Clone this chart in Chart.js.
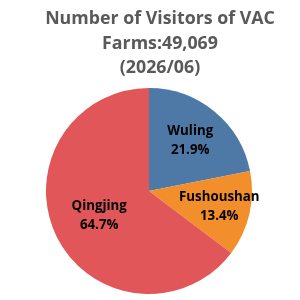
<!DOCTYPE html>
<html lang="en">
<head>
<meta charset="UTF-8">
<title>VAC Farms Visitors</title>
<script src="https://cdn.jsdelivr.net/npm/chart.js"></script>
<style>
    html, body { margin: 0; padding: 0; background: #ffffff; }
    #chartContainer { width: 300px; height: 300px; }
</style>
</head>
<body>
<div id="chartContainer">
    <canvas id="pieChart" width="300" height="300"></canvas>
</div>
<script>
const titleLines = ['Number of Visitors of VAC', 'Farms:49,069', '(2026/06)'];
const farms = ['Wuling', 'Fushoushan', 'Qingjing'];
const visitors = [10746, 6575, 31748];
const percentLabels = ['21.9%', '13.4%', '64.7%'];
const sliceColors = ['#4e79a7', '#f28e2b', '#e15759'];

// how far out along each slice the label sits (fraction of radius)
const labelRadius = [0.63, 0.70, 0.54];

// title is drawn a bit right of the pie centre, like the original
const chartTitle = {
    id: 'chartTitle',
    afterDraw(chart) {
        const ctx = chart.ctx;
        ctx.save();
        ctx.font = 'bold 17.8px "Open Sans"';
        ctx.fillStyle = '#595959';
        ctx.textAlign = 'center';
        ctx.textBaseline = 'middle';
        titleLines.forEach((line, i) => {
            ctx.fillText(line, 160, 19 + i * 24.5);
        });
        ctx.restore();
    }
};

const sliceLabels = {
    id: 'sliceLabels',
    afterDatasetsDraw(chart) {
        const ctx = chart.ctx;
        const meta = chart.getDatasetMeta(0);
        ctx.save();
        ctx.font = 'bold 13.3px "Open Sans"';
        ctx.fillStyle = '#000000';
        ctx.textAlign = 'center';
        ctx.textBaseline = 'middle';
        meta.data.forEach((arc, i) => {
            const p = arc.getProps(['x', 'y', 'startAngle', 'endAngle', 'outerRadius'], true);
            const mid = (p.startAngle + p.endAngle) / 2;
            const r = p.outerRadius * labelRadius[i];
            const x = p.x + Math.cos(mid) * r;
            const y = p.y + Math.sin(mid) * r;
            ctx.fillText(farms[i], x, y - 9.5);
            ctx.fillText(percentLabels[i], x, y + 9.5);
        });
        ctx.restore();
    }
};

new Chart(document.getElementById('pieChart'), {
    type: 'pie',
    data: {
        labels: farms,
        datasets: [{
            data: visitors,
            backgroundColor: sliceColors,
            borderWidth: 0
        }]
    },
    options: {
        responsive: false,
        animation: false,
        layout: { padding: { top: 88, bottom: 6, left: 0, right: 2 } },
        plugins: {
            legend: { display: false },
            tooltip: { enabled: false },
            title: { display: false }
        }
    },
    plugins: [sliceLabels, chartTitle]
});
</script>
</body>
</html>
